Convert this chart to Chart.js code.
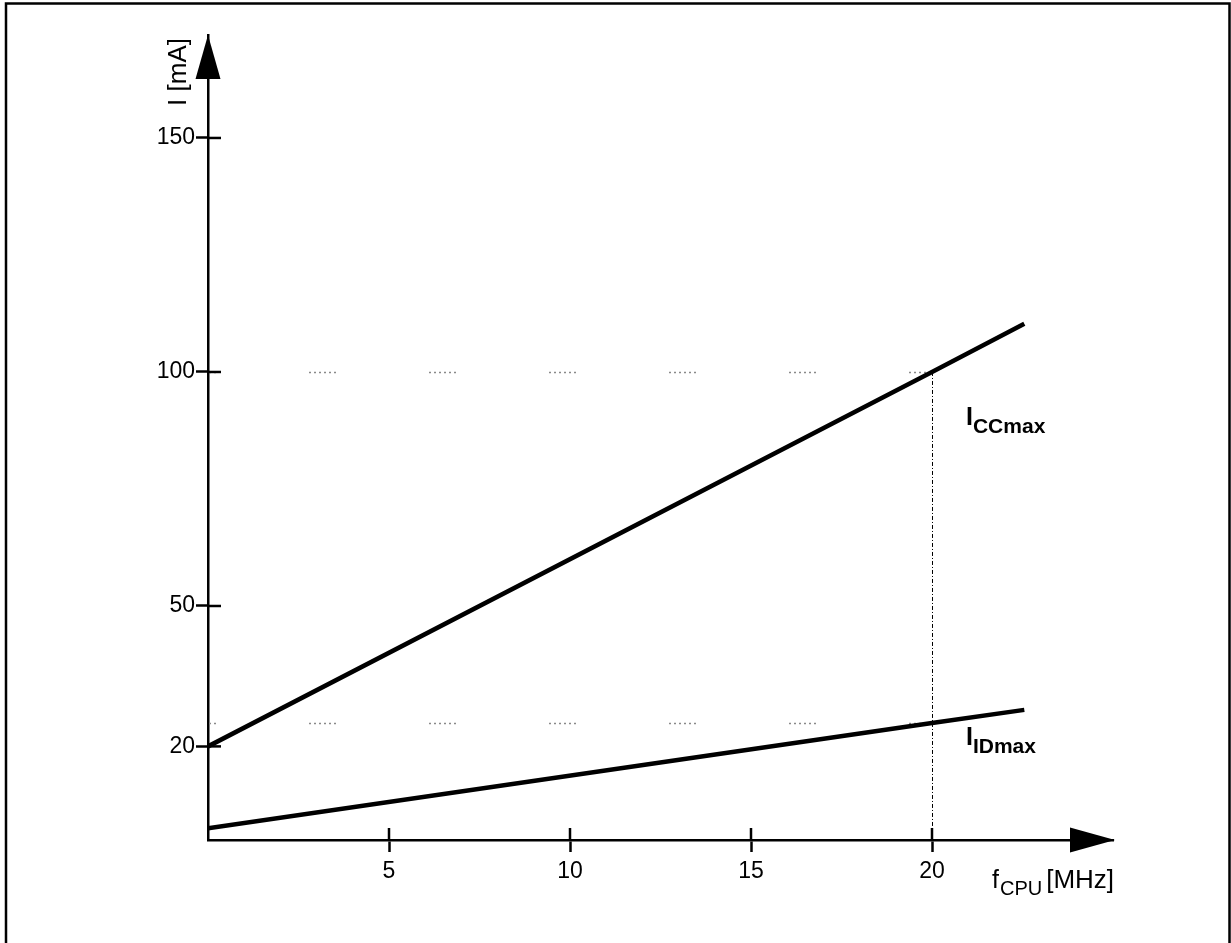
<!DOCTYPE html>
<html>
<head>
<meta charset="utf-8">
<script src="https://cdn.jsdelivr.net/npm/chart.js@4/dist/chart.umd.min.js"></script>
<style>
  html, body { margin: 0; padding: 0; background: #fff; }
  canvas { display: block; }
</style>
</head>
<body>
<canvas id="c" width="1231" height="943"></canvas>
<script>
// ---- data ----
const freqMHz = [0, 20, 22.55];
const iccMax = [20, 100, 110.3];
const iidMax = [2.5, 25, 27.8];
const xTicks = [5, 10, 15, 20];
const yTicks = [20, 50, 100, 150];
const refFreq = 20;         // vertical dotted marker
const refIcc = 100;         // faint reference level for ICCmax
const refIid = 25;          // faint reference level for IDmax

const FONT = '"Liberation Sans", Arial, Helvetica, sans-serif';

const decor = {
  id: 'decor',
  beforeDraw(chart) {
    const ctx = chart.ctx;
    ctx.save();
    ctx.fillStyle = '#fff';
    ctx.fillRect(0, 0, chart.width, chart.height);
    ctx.strokeStyle = '#000';
    ctx.lineWidth = 2.5;
    ctx.beginPath();
    ctx.moveTo(6, 943);
    ctx.lineTo(6, 3.5);
    ctx.lineTo(1229.5, 3.5);
    ctx.lineTo(1229.5, 943);
    ctx.stroke();
    ctx.restore();
  },
  beforeDatasetsDraw(chart) {
    const ctx = chart.ctx;
    const xs = chart.scales.x, ys = chart.scales.y;
    ctx.save();
    // faint reference levels
    ctx.strokeStyle = '#8a8a8a';
    ctx.lineWidth = 1.5;
    ctx.setLineDash([2,3,2,3,2,3,2,3,2,3,2,93]);
    ctx.lineDashOffset = 19;
    [refIcc, refIid].forEach(v => {
      const y = Math.round(ys.getPixelForValue(v)) + 0.5;
      ctx.beginPath();
      ctx.moveTo(xs.getPixelForValue(0), y);
      ctx.lineTo(xs.getPixelForValue(refFreq), y);
      ctx.stroke();
    });
    // vertical dotted marker
    ctx.strokeStyle = '#000';
    ctx.lineWidth = 1;
    ctx.setLineDash([4, 2, 1, 2]);
    ctx.lineDashOffset = 0;
    const vx = Math.round(xs.getPixelForValue(refFreq)) + 0.5;
    ctx.beginPath();
    ctx.moveTo(vx, ys.getPixelForValue(refIcc));
    ctx.lineTo(vx, ys.getPixelForValue(0));
    ctx.stroke();
    ctx.restore();
  },
  afterDraw(chart) {
    const ctx = chart.ctx;
    const xs = chart.scales.x, ys = chart.scales.y;
    const a = chart.chartArea;
    ctx.save();
    ctx.strokeStyle = '#000';
    ctx.fillStyle = '#000';
    ctx.lineWidth = 2.5;
    // inner halves of tick marks (ticks cross the axes)
    yTicks.forEach(v => {
      const y = ys.getPixelForValue(v);
      ctx.beginPath(); ctx.moveTo(a.left, y); ctx.lineTo(a.left + 13, y); ctx.stroke();
    });
    xTicks.forEach(v => {
      const x = xs.getPixelForValue(v);
      ctx.beginPath(); ctx.moveTo(x, a.bottom); ctx.lineTo(x, a.bottom - 12); ctx.stroke();
    });
    // arrow heads
    ctx.beginPath();
    ctx.moveTo(a.left, a.top);
    ctx.lineTo(a.left - 12.5, a.top + 44);
    ctx.lineTo(a.left + 12.5, a.top + 44);
    ctx.closePath(); ctx.fill();
    ctx.beginPath();
    ctx.moveTo(a.right + 2, a.bottom);
    ctx.lineTo(a.right - 43, a.bottom - 12.5);
    ctx.lineTo(a.right - 43, a.bottom + 12.5);
    ctx.closePath(); ctx.fill();

    // y axis title, rotated
    ctx.save();
    ctx.translate(186, 72);
    ctx.rotate(-Math.PI / 2);
    ctx.font = '26px ' + FONT;
    ctx.textAlign = 'center';
    ctx.textBaseline = 'alphabetic';
    ctx.fillText('I [mA]', 0, 0);
    ctx.restore();

    // x axis title f_CPU [MHz]
    ctx.textAlign = 'left';
    ctx.textBaseline = 'alphabetic';
    let x = 992;
    ctx.font = '25px ' + FONT;
    ctx.fillText('f', x, 888);
    x += ctx.measureText('f').width + 1;
    ctx.font = '20px ' + FONT;
    ctx.fillText('CPU', x, 895);
    x += ctx.measureText('CPU').width + 4;
    ctx.font = '26px ' + FONT;
    ctx.fillText('[MHz]', x, 888);

    // series labels
    function subLabel(main, sub, x0, yBase) {
      ctx.font = 'bold 25px ' + FONT;
      ctx.fillText(main, x0, yBase);
      const w = ctx.measureText(main).width;
      ctx.font = 'bold 21px ' + FONT;
      ctx.fillText(sub, x0 + w, yBase + 8);
    }
    subLabel('I', 'CCmax', 966, 425);
    subLabel('I', 'IDmax', 966, 745);
    ctx.restore();
  }
};

new Chart(document.getElementById('c'), {
  type: 'line',
  data: {
    labels: freqMHz,
    datasets: [
      { label: 'ICCmax', data: freqMHz.map((f, i) => ({ x: f, y: iccMax[i] })),
        borderColor: '#000', borderWidth: 4.5, pointRadius: 0, tension: 0, fill: false },
      { label: 'IDmax', data: freqMHz.map((f, i) => ({ x: f, y: iidMax[i] })),
        borderColor: '#000', borderWidth: 4.5, pointRadius: 0, tension: 0, fill: false }
    ]
  },
  options: {
    responsive: false,
    animation: false,
    devicePixelRatio: 1,
    layout: { padding: { left: 0, top: 35, right: 118, bottom: 0 } },
    plugins: { legend: { display: false }, tooltip: { enabled: false } },
    scales: {
      x: {
        type: 'linear', position: 'bottom', min: 0, max: 25,
        afterBuildTicks: s => { s.ticks = xTicks.map(v => ({ value: v })); },
        afterFit: s => { s.height = 103; },
        grid: { drawOnChartArea: false, drawTicks: true, tickLength: 12, tickWidth: 2.5, tickColor: '#000' },
        border: { display: true, color: '#000', width: 2.5 },
        ticks: { color: '#000', font: { family: FONT, size: 23 }, padding: 6, maxRotation: 0,
                 callback: v => String(v) }
      },
      y: {
        type: 'linear', position: 'left', min: 0, max: 172,
        afterBuildTicks: s => { s.ticks = yTicks.map(v => ({ value: v })); },
        afterFit: s => { s.width = 208; },
        grid: { drawOnChartArea: false, drawTicks: true, tickLength: 12, tickWidth: 2.5, tickColor: '#000' },
        border: { display: true, color: '#000', width: 2.5 },
        ticks: { color: '#000', font: { family: FONT, size: 23 }, padding: 1,
                 callback: v => String(v) }
      }
    }
  },
  plugins: [decor]
});
</script>
</body>
</html>
